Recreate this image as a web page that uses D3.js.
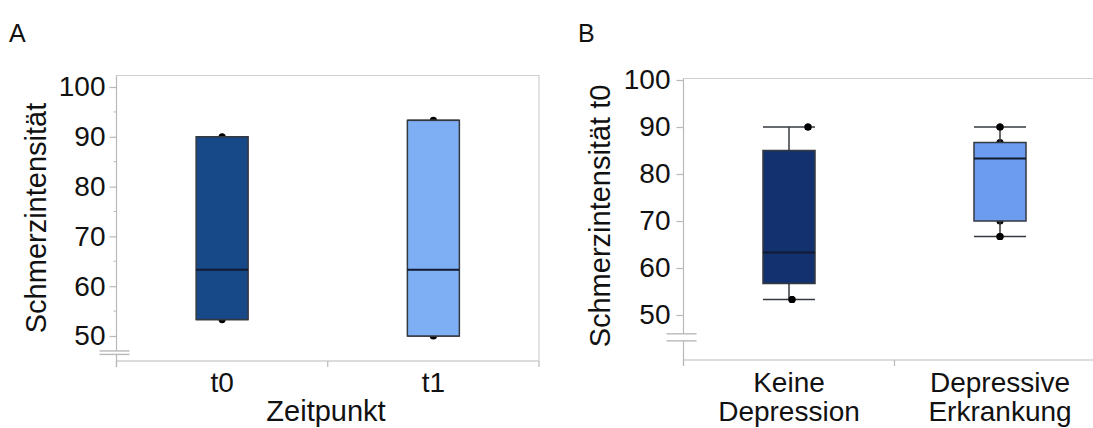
<!DOCTYPE html>
<html>
<head>
<meta charset="utf-8">
<script src="https://cdn.jsdelivr.net/npm/d3@7"></script>
<style>
  html, body { margin: 0; padding: 0; background: #fff; }
  svg { display: block; font-family: "Liberation Sans", Arial, Helvetica, sans-serif; }
</style>
</head>
<body>
<svg id="chart" width="1093" height="428"></svg>
<script>
// ---- Panel A: pain intensity by time point ----
const catsA = ["t0", "t1"];
const minA = [53.3, 50.0];
const q1A = [53.3, 50.0];
const medA = [63.3, 63.3];
const q3A = [90.0, 93.3];
const maxA = [90.0, 93.3];
const pointsA = [[90.0, 53.3], [93.3, 50.0]];
const ticksA = [50, 60, 70, 80, 90, 100];
const minorTicksA = [55, 65, 75, 85, 95];

// ---- Panel B: pain intensity at t0 by depression status ----
const catsB = [["Keine", "Depression"], ["Depressive", "Erkrankung"]];
const minB = [53.3, 66.7];
const q1B = [56.7, 70.0];
const medB = [63.3, 83.3];
const q3B = [85.0, 86.7];
const maxB = [90.0, 90.0];
const pointsB = [[90.0, 53.3], [90.0, 86.7, 70.0, 66.7]];
const ticksB = [50, 60, 70, 80, 90, 100];

// horizontal offsets of the raw points (px) so they do not overlap the whisker
const jitterB = [[19, 3], [0, 0, 0, 0]];

const svg = d3.select("#chart");
const axisGrey = "#b9b9b9";
const frameGrey = "#d0d0d0";
const boxStroke = "#34383f";
const FONT = 28;

function panel(opts) {
  const g = svg.append("g");
  const { x0, x1, yTop, yBottom, y, x, cats, mins, q1s, meds, q3s, maxs, pts, jit,
          fills, ticks, minors, breakA, breakB, tickLabelGap, title, titleX, titleY, xTitle, xTitleX } = opts;

  // frame (top and right)
  g.append("path")
    .attr("d", `M${x0},${yTop}H${x1}V${yBottom}`)
    .attr("fill", "none").attr("stroke", frameGrey).attr("stroke-width", 1.2);

  // y axis
  const yAxis = d3.axisLeft(y).tickValues(ticks).tickSize(7).tickPadding(tickLabelGap).tickSizeOuter(0);
  const ya = g.append("g").attr("transform", `translate(${x0},0)`).call(yAxis);
  ya.select(".domain").remove();
  ya.selectAll(".tick line").attr("stroke", axisGrey).attr("stroke-width", 1.2);
  ya.selectAll(".tick text").attr("font-size", FONT).attr("fill", "#111")
    .attr("font-family", "'Liberation Sans', Arial, Helvetica, sans-serif");
  g.append("line").attr("x1", x0).attr("x2", x0).attr("y1", yTop).attr("y2", yBottom + 6)
    .attr("stroke", axisGrey).attr("stroke-width", 1.2);

  if (minors) {
    g.selectAll(".minor").data(minors).join("line")
      .attr("x1", x0 - 3).attr("x2", x0)
      .attr("y1", d => y(d)).attr("y2", d => y(d))
      .attr("stroke", axisGrey).attr("stroke-width", 1);
  }

  // axis break marker
  const ba = y(breakA), bb = y(breakB);
  g.append("rect").attr("x", x0 - 3).attr("y", ba).attr("width", 6).attr("height", bb - ba).attr("fill", "#fff");
  [ba, bb].forEach(v => {
    g.append("line").attr("x1", x0 - 17).attr("x2", x0 + 13).attr("y1", v).attr("y2", v)
      .attr("stroke", axisGrey).attr("stroke-width", 1.4);
  });

  // x axis
  g.append("line").attr("x1", x0).attr("x2", x1).attr("y1", yBottom).attr("y2", yBottom)
    .attr("stroke", axisGrey).attr("stroke-width", 1.2);
  const bounds = cats.map((c, i) => x(i)).concat([x(cats.length - 1) + x.bandwidth()]);
  g.selectAll(".xt").data(bounds).join("line")
    .attr("x1", d => d).attr("x2", d => d).attr("y1", yBottom).attr("y2", yBottom + 6)
    .attr("stroke", axisGrey).attr("stroke-width", 1.2);

  // category labels
  cats.forEach((c, i) => {
    const lines = Array.isArray(c) ? c : [c];
    const cx = x(i) + x.bandwidth() / 2;
    lines.forEach((ln, k) => {
      g.append("text").attr("x", cx).attr("y", 392 + k * 29)
        .attr("text-anchor", "middle").attr("font-size", FONT).attr("fill", "#111").text(ln);
    });
  });
  if (xTitle) {
    g.append("text").attr("x", xTitleX).attr("y", 421)
      .attr("text-anchor", "middle").attr("font-size", 29).attr("fill", "#111").text(xTitle);
  }

  // y title
  g.append("text").attr("transform", `translate(${titleX},${titleY}) rotate(-90)`)
    .attr("text-anchor", "middle").attr("font-size", 29).attr("fill", "#111").text(title);

  // raw points sit beneath the boxes
  const bw = 52;
  cats.forEach((c, i) => {
    const cx = x(i) + x.bandwidth() / 2;
    pts[i].forEach((v, k) => {
      g.append("circle").attr("cx", cx + (jit ? jit[i][k] : 0)).attr("cy", y(v)).attr("r", 3.6).attr("fill", "#000");
    });
  });

  // whiskers and boxes
  cats.forEach((c, i) => {
    const cx = x(i) + x.bandwidth() / 2;
    g.append("line").attr("x1", cx).attr("x2", cx).attr("y1", y(maxs[i])).attr("y2", y(q3s[i]))
      .attr("stroke", boxStroke).attr("stroke-width", 1.5);
    g.append("line").attr("x1", cx).attr("x2", cx).attr("y1", y(q1s[i])).attr("y2", y(mins[i]))
      .attr("stroke", boxStroke).attr("stroke-width", 1.5);
    [maxs[i], mins[i]].forEach(v => {
      g.append("line").attr("x1", cx - bw / 2).attr("x2", cx + bw / 2).attr("y1", y(v)).attr("y2", y(v))
        .attr("stroke", boxStroke).attr("stroke-width", 1.5);
    });
    g.append("rect").attr("x", cx - bw / 2).attr("y", y(q3s[i]))
      .attr("width", bw).attr("height", y(q1s[i]) - y(q3s[i]))
      .attr("fill", fills[i]).attr("stroke", boxStroke).attr("stroke-width", 1.5);
    g.append("line").attr("x1", cx - bw / 2).attr("x2", cx + bw / 2).attr("y1", y(meds[i])).attr("y2", y(meds[i]))
      .attr("stroke", "#111a2e").attr("stroke-width", 2);
  });

  // points that fall outside the box stay visible on top
  cats.forEach((c, i) => {
    const cx = x(i) + x.bandwidth() / 2;
    pts[i].forEach((v, k) => {
      if (v > q3s[i] + 1 || v < q1s[i] - 1) {
        g.append("circle").attr("cx", cx + (jit ? jit[i][k] : 0)).attr("cy", y(v)).attr("r", 3.6).attr("fill", "#000");
      }
    });
  });
  return g;
}

// Panel A
const yA = d3.scaleLinear().domain([50, 100]).range([336, 87]);
const xA = d3.scaleBand().domain(d3.range(catsA.length)).range([116.5, 539]).padding(0);
panel({
  x0: 116.5, x1: 539, yTop: 75.5, yBottom: 361, y: yA, x: xA,
  cats: catsA, mins: minA, q1s: q1A, meds: medA, q3s: q3A, maxs: maxA, pts: pointsA, jit: null,
  fills: ["#174989", "#7eaff5"], ticks: ticksA, minors: minorTicksA,
  breakA: 47, breakB: 46.3, tickLabelGap: 4,
  title: "Schmerzintensität", titleX: 46, titleY: 218, xTitle: "Zeitpunkt", xTitleX: 326
});

// Panel B
const yB = d3.scaleLinear().domain([50, 100]).range([315, 80]);
const xB = d3.scaleBand().domain(d3.range(catsB.length)).range([683.5, 1105.5]).padding(0);
panel({
  x0: 683.5, x1: 1105.5, yTop: 78.5, yBottom: 360, y: yB, x: xB,
  cats: catsB, mins: minB, q1s: q1B, meds: medB, q3s: q3B, maxs: maxB, pts: pointsB, jit: jitterB,
  fills: ["#13316f", "#6b9cf0"], ticks: ticksB, minors: null,
  breakA: 46, breakB: 44.5, tickLabelGap: 6,
  title: "Schmerzintensität t0", titleX: 610, titleY: 216, xTitle: null
});

// panel letters
svg.append("text").attr("x", 9).attr("y", 42).attr("font-size", 25).attr("fill", "#111").text("A");
svg.append("text").attr("x", 578).attr("y", 42).attr("font-size", 25).attr("fill", "#111").text("B");
</script>
</body>
</html>
